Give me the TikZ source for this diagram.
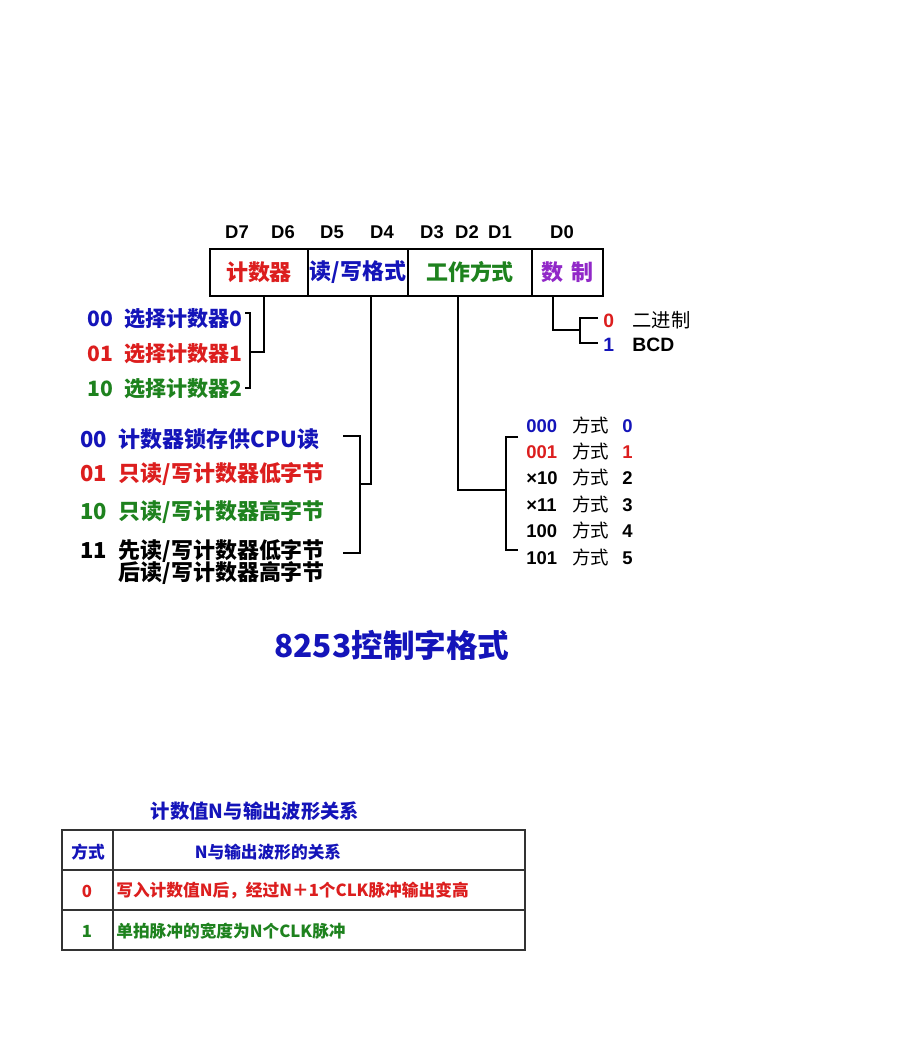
\documentclass[tikz,border=0pt]{standalone}
\usepackage{fontspec}
\setmainfont{Noto Sans CJK SC}
\newfontfamily\latinsans{Liberation Sans}
\usepackage{tikz}
\definecolor{cred}{RGB}{220,30,30}
\definecolor{cblue}{RGB}{20,20,185}
\definecolor{cgreen}{RGB}{30,130,30}
\definecolor{cpurple}{RGB}{145,40,200}
\newcommand{\bits}[1]{\makebox[1.75em][l]{#1}}
\newcommand{\way}[3]{\makebox[2.5em][l]{\textcolor{#1}{\latinsans\bfseries #2}}方式\hspace{0.7em}\textcolor{#1}{\latinsans\bfseries #3}}

\begin{document}
\begin{tikzpicture}[x=0.02cm,y=-0.02cm]
\useasboundingbox[fill=white] (0,0) rectangle (920,1051);
% Define styles
\tikzstyle{cell} = [draw, line width=1.2pt, minimum height=0.94cm, inner sep=0pt, font=\bfseries\fontsize{12.5}{15}\selectfont]
\tikzstyle{bit} = [font=\latinsans\bfseries\fontsize{10.5}{12}\selectfont]
\tikzstyle{item} = [anchor=west, inner sep=0pt, font=\bfseries\fontsize{12}{14}\selectfont]
\tikzstyle{rwitem} = [item, font=\bfseries\fontsize{12.5}{14}\selectfont]
\tikzstyle{wayitem} = [anchor=west, inner sep=0pt, font=\fontsize{10.5}{12}\selectfont]
\tikzstyle{wire} = [line width=0.8pt]
\tikzstyle{grid} = [line width=0.9pt, black!80]
\tikzstyle{tab} = [font=\bfseries\fontsize{9.5}{11}\selectfont]
% Define nodes
\node[bit] (d7) at (237,232) {D7};
\node[bit] (d6) at (283,232) {D6};
\node[bit] (d5) at (332,232) {D5};
\node[bit] (d4) at (382,232) {D4};
\node[bit] (d3) at (432,232) {D3};
\node[bit] (d2) at (467,232) {D2};
\node[bit] (d1) at (500,232) {D1};
\node[bit] (d0) at (562,232) {D0};
\node[cell, minimum width=1.96cm, text=cred] (cnt) at (259,272.5) {计数器};
\node[cell, minimum width=2.0cm, text=cblue] (rw) at (358,272.5) {读/写格式};
\node[cell, minimum width=2.48cm, text=cgreen] (mode) at (470,272.5) {工作方式};
\node[cell, minimum width=1.42cm, text=cpurple] (bcd) at (567.5,272.5) {数\hspace{0.35em}制};
% counter select
\node[item, text=cblue] (sel0) at (87,319) {\bits{00}选择计数器0};
\node[item, text=cred] (sel1) at (87,354) {\bits{01}选择计数器1};
\node[item, text=cgreen] (sel2) at (87,389) {\bits{10}选择计数器2};
% read/write
\node[rwitem, text=cblue] (rw0) at (80,439) {\bits{00}计数器锁存供CPU读};
\node[rwitem, text=cred] (rw1) at (80,474) {\bits{01}只读/写计数器低字节};
\node[rwitem, text=cgreen] (rw2) at (80,512) {\bits{10}只读/写计数器高字节};
\node[rwitem] (rw3) at (80,551) {\bits{11}先读/写计数器低字节};
\node[rwitem] (rw3b) at (80,573) {\bits{}后读/写计数器高字节};
% modes
\node[wayitem] (way0) at (526,425) {\way{cblue}{000}{0}};
\node[wayitem] (way1) at (526,451) {\way{cred}{001}{1}};
\node[wayitem] (way2) at (526,477) {\way{black}{×10}{2}};
\node[wayitem] (way3) at (526,504) {\way{black}{×11}{3}};
\node[wayitem] (way4) at (526,530) {\way{black}{100}{4}};
\node[wayitem] (way5) at (526,557) {\way{black}{101}{5}};
% number system
\node[wayitem, font=\fontsize{11}{13}\selectfont] (bin) at (603,320) {\makebox[1.5em][l]{\textcolor{cred}{\latinsans\bfseries 0}}二进制};
\node[wayitem, font=\fontsize{11}{13}\selectfont] (bcdv) at (603,345) {\makebox[1.5em][l]{\textcolor{cblue}{\latinsans\bfseries 1}}{\latinsans\bfseries BCD}};
% title
\node[font=\bfseries\fontsize{18}{22}\selectfont, text=cblue] (title) at (392,645) {8253控制字格式};
% table
\node[font=\bfseries\fontsize{11}{13}\selectfont, text=cblue] (tabtitle) at (255,811) {计数值N与输出波形关系};
\draw[grid] (62,830) rectangle (525,950);
\draw[grid] (62,870) -- (525,870);
\draw[grid] (62,910) -- (525,910);
\draw[grid] (113,830) -- (113,950);
\node[tab, text=cblue] (h0) at (88,852) {方式};
\node[tab, text=cblue] (h1) at (268,852) {N与输出波形的关系};
\node[tab, text=cred] (r0a) at (87,891) {0};
\node[tab, text=cred, anchor=west, inner sep=0pt] (r0b) at (116,891) {写入计数值N后，经过N＋1个CLK脉冲输出变高};
\node[tab, text=cgreen] (r1a) at (87,931) {1};
\node[tab, text=cgreen, anchor=west, inner sep=0pt] (r1b) at (116,931) {单拍脉冲的宽度为N个CLK脉冲};
% Connect the nodes
\coordinate (cntj) at (264,352);
\coordinate (cntb) at (250,352);
\coordinate (cnttop) at (245,313);
\coordinate (cntbot) at (245,388);
\draw[wire] (cnt.south -| cntj) -- (cntj) -- (cntb);
\draw[wire] (cnttop) -| (cntb) |- (cntbot);
\coordinate (rwj) at (371,484);
\coordinate (rwb) at (360,484);
\coordinate (rwtop) at (343,436);
\coordinate (rwbot) at (343,553);
\draw[wire] (rw.south -| rwj) -- (rwj) -- (rwb);
\draw[wire] (rwtop) -| (rwb) |- (rwbot);
\coordinate (modej) at (458,490);
\coordinate (modeb) at (506,490);
\coordinate (modetop) at (518,437);
\coordinate (modebot) at (518,550);
\draw[wire] (mode.south -| modej) -- (modej) -- (modeb);
\draw[wire] (modetop) -| (modeb) |- (modebot);
\coordinate (bcdj) at (553,330);
\coordinate (bcdb) at (580,330);
\coordinate (bcdtop) at (598,318);
\coordinate (bcdbot) at (598,343);
\draw[wire] (bcd.south -| bcdj) -- (bcdj) -- (bcdb);
\draw[wire] (bcdtop) -| (bcdb) |- (bcdbot);
\end{tikzpicture}
\end{document}
